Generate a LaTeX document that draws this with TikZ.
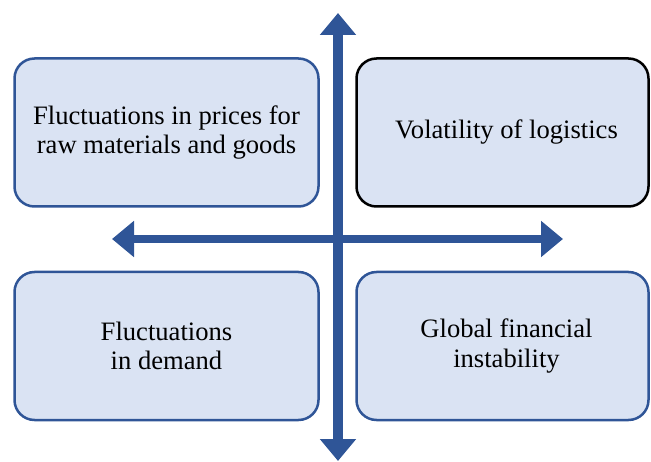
\documentclass[tikz,border=0pt]{standalone}
\usepackage{fontspec}
\setmainfont{Liberation Serif}
\usetikzlibrary{arrows.meta,positioning}
\definecolor{fillblue}{HTML}{DAE3F3}
\definecolor{edgeblue}{HTML}{2F5597}
\begin{document}
\begin{tikzpicture}[x=1pt,y=-1pt,
  qbox/.style={draw=edgeblue,line width=2.5pt,fill=fillblue,rounded corners=20pt,
    minimum height=148pt,align=center,inner sep=0pt,
    font=\fontsize{26.6}{29.5}\selectfont},
  axis/.style={edgeblue,line width=#1,{Triangle[length=22pt,width=35pt]}-{Triangle[length=22pt,width=35pt]}}]
  \useasboundingbox (0,0) rectangle (651,462);
  \node[qbox,minimum width=304pt] (pr) at (166.5,132.5) {Fluctuations in prices for\\raw materials and goods};
  \node[qbox,draw=black,minimum width=292pt] (lg) at (502.5,132.5) {\hspace*{8pt}Volatility of logistics};
  \node[qbox,minimum width=304pt] (dm) at (166.5,346) {Fluctuations\\in demand};
  \node[qbox,minimum width=292pt] (fn) at (502.5,346) {\hspace*{8pt}Global financial\\\hspace*{8pt}instability};
  \coordinate (vt) at (338,13);
  \coordinate (vb) at (338,461);
  \coordinate (hl) at (112,239);
  \coordinate (hr) at (563,239);
  \draw[axis=8.5pt] (hl) -- (hr);
  \draw[axis=10pt] (vb) -- (vt);
\end{tikzpicture}
\end{document}
